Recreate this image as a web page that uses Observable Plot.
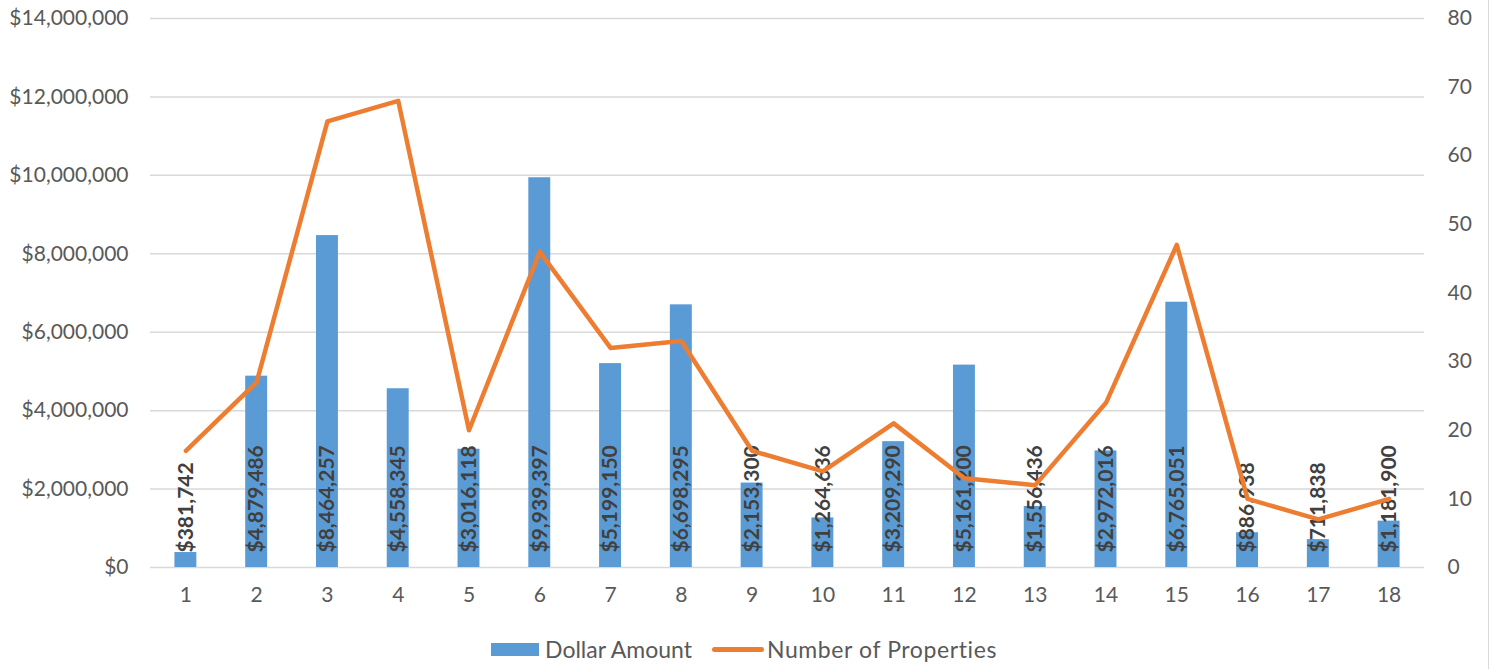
<!DOCTYPE html>
<html>
<head>
<meta charset="utf-8">
<script src="https://cdn.jsdelivr.net/npm/d3@7"></script>
<script src="https://cdn.jsdelivr.net/npm/@observablehq/plot@0.6"></script>
<style>
  html, body { margin: 0; padding: 0; background: #fff; }
  #wrap { width: 1488px; height: 669px; border-right: 1px solid #d9d9d9; position: relative; font-family: Lato, "Open Sans", sans-serif; }
  #legend { position: absolute; top: 635px; left: 0; width: 1488px; display: flex; justify-content: center; align-items: center; font-size: 23px; color: #595959; }
  .item { display: flex; align-items: center; margin: 0 10px; }
  .sw-bar { width: 48px; height: 13px; background: #5B9BD5; margin-right: 6px; }
  .sw-line { width: 52px; height: 5px; border-radius: 3px; background: #ED7D31; margin-right: 3px; }
</style>
</head>
<body>
<div id="wrap">
  <div id="chart"></div>
  <div id="legend">
    <div class="item"><div class="sw-bar"></div><span>Dollar Amount</span></div>
    <div class="item" style="margin-left:10px"><div class="sw-line"></div><span style="letter-spacing:0.6px">Number of Properties</span></div>
  </div>
</div>
<script>
const categories = ["1","2","3","4","5","6","7","8","9","10","11","12","13","14","15","16","17","18"];
const dollarAmounts = [381742, 4879486, 8464257, 4558345, 3016118, 9939397, 5199150, 6698295, 2153300, 1264636, 3209290, 5161200, 1556436, 2972016, 6765051, 886938, 711838, 1181900];
const propertyCounts = [17, 27, 65, 68, 20, 46, 32, 33, 17, 14, 21, 13, 12, 24, 47, 10, 7, 10];
const leftTicks = [0, 2000000, 4000000, 6000000, 8000000, 10000000, 12000000, 14000000];
const rightTicks = [0, 10, 20, 30, 40, 50, 60, 70, 80];

const leftMax = 14000000, rightMax = 80;
const ratio = leftMax / rightMax;

const data = categories.map((c, i) => ({
  cat: c,
  amount: dollarAmounts[i],
  count: propertyCounts[i],
  countScaled: propertyCounts[i] * ratio
}));

const fmt = d => "$" + d3.format(",")(d);

const chart = Plot.plot({
  width: 1488,
  height: 620,
  marginLeft: 150,
  marginRight: 64,
  marginTop: 18,
  marginBottom: 53,
  style: { fontFamily: "Lato, 'Open Sans', sans-serif", fontSize: "21px", color: "#595959", background: "#fff" },
  x: { domain: categories, paddingInner: 0.69, paddingOuter: 0.345, align: 0.5, round: false },
  y: { domain: [0, leftMax] },
  marks: [
    Plot.gridY(leftTicks, { stroke: "#d9d9d9", strokeOpacity: 1, strokeWidth: 1.5 }),
    Plot.barY(data, { x: "cat", y: "amount", fill: "#5B9BD5" }),
    Plot.text(data, {
      x: "cat", y: () => 0, text: d => fmt(d.amount),
      rotate: -90, textAnchor: "start", dy: -15,
      fill: "#404040", fontWeight: "bold", fontSize: 21
    }),
    Plot.line(data, {
      x: "cat", y: "countScaled", stroke: "#ED7D31", strokeWidth: 4.5,
      strokeLinejoin: "round", strokeLinecap: "round"
    }),
    Plot.axisY(leftTicks, { anchor: "left", tickSize: 0, tickPadding: 22, tickFormat: fmt, label: null, fill: "#595959" }),
    Plot.axisY(rightTicks.map(v => v * ratio), { anchor: "right", tickSize: 0, tickPadding: 23, tickFormat: d => String(Math.round(d / ratio)), label: null, fill: "#595959" }),
    Plot.axisX({ tickSize: 0, tickPadding: 20, label: null, fill: "#595959" })
  ]
});
document.getElementById("chart").appendChild(chart);
</script>
</body>
</html>
